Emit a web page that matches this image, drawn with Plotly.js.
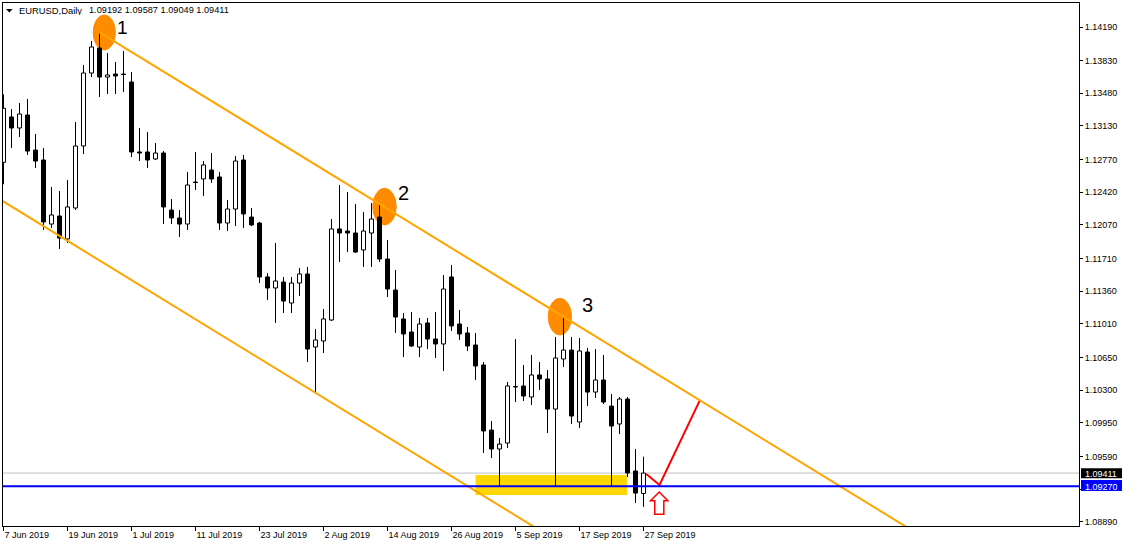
<!DOCTYPE html>
<html>
<head>
<meta charset="utf-8">
<script src="https://cdn.plot.ly/plotly-3.0.1.min.js"></script>
<style>
html,body{margin:0;padding:0;background:#fff;}
#chart{width:1125px;height:546px;}
</style>
</head>
<body>
<div id="chart"></div>
<script>
// ---- data (EURUSD daily) ----
const xTickIdx = [0, 8, 16, 24, 32, 40, 48, 56, 64, 72, 80];
const xTickText = ["7 Jun 2019", "19 Jun 2019", "1 Jul 2019", "11 Jul 2019", "23 Jul 2019",
  "2 Aug 2019", "14 Aug 2019", "26 Aug 2019", "5 Sep 2019", "17 Sep 2019", "27 Sep 2019"];

const openP = [
  1.12740, 1.13226, 1.13108, 1.13247, 1.12872, 1.12765, 1.12079, 1.12165, 1.11919, 1.12251,
  1.12915, 1.13697, 1.13965, 1.13654, 1.13686, 1.13686, 1.13601, 1.12851, 1.12851, 1.12776,
  1.12840, 1.12229, 1.12144, 1.12079, 1.12529, 1.12562, 1.12658, 1.12583, 1.12090, 1.12240,
  1.12765, 1.12154, 1.12090, 1.11512, 1.11394, 1.11458, 1.11233, 1.11447, 1.11544, 1.10762,
  1.10826, 1.11051, 1.12026, 1.12004, 1.11983, 1.11801, 1.11983, 1.12154, 1.11704, 1.11372,
  1.11062, 1.10922, 1.10762, 1.11019, 1.10847, 1.10794, 1.11512, 1.11008, 1.10912, 1.10783,
  1.10569, 1.09872, 1.09669, 1.09733, 1.10333, 1.10344, 1.10226, 1.10462, 1.10419, 1.10097,
  1.10633, 1.10729, 1.09958, 1.10708, 1.10279, 1.10408, 1.10129, 1.09937, 1.10204, 1.09433,
  1.09192];
const highP = [
  1.13469, 1.13311, 1.13376, 1.13419, 1.13044, 1.12894, 1.12476, 1.12433, 1.12551, 1.13172,
  1.13783, 1.14040, 1.14126, 1.13911, 1.13815, 1.13933, 1.13708, 1.13108, 1.13065, 1.12947,
  1.12861, 1.12347, 1.12229, 1.12637, 1.12851, 1.12754, 1.12840, 1.12637, 1.12337, 1.12808,
  1.12819, 1.12251, 1.12101, 1.11554, 1.11876, 1.11512, 1.11512, 1.11608, 1.11619, 1.10954,
  1.11169, 1.12133, 1.12497, 1.12422, 1.12294, 1.12208, 1.12304, 1.12283, 1.11908, 1.11587,
  1.11126, 1.11137, 1.11072, 1.11072, 1.11137, 1.11533, 1.11640, 1.11158, 1.10976, 1.10912,
  1.10601, 1.09969, 1.09787, 1.10387, 1.10847, 1.10569, 1.10676, 1.10601, 1.10515, 1.10869,
  1.11094, 1.10869, 1.10858, 1.10751, 1.10740, 1.10676, 1.10258, 1.10226, 1.10226, 1.09669,
  1.09587];
const lowP = [
  1.12505, 1.12894, 1.13011, 1.12819, 1.12679, 1.12015, 1.12037, 1.11812, 1.11876, 1.12229,
  1.12829, 1.13654, 1.13440, 1.13472, 1.13472, 1.13494, 1.12797, 1.12754, 1.12679, 1.12765,
  1.12079, 1.12079, 1.11940, 1.12015, 1.12444, 1.12379, 1.12519, 1.12015, 1.12004, 1.12058,
  1.12037, 1.12058, 1.11447, 1.11265, 1.11019, 1.11126, 1.11126, 1.11308, 1.10601, 1.10269,
  1.10697, 1.11040, 1.11672, 1.11779, 1.11769, 1.11619, 1.11619, 1.11672, 1.11297, 1.10912,
  1.10654, 1.10762, 1.10654, 1.10740, 1.10644, 1.10504, 1.10933, 1.10837, 1.10719, 1.10408,
  1.09626, 1.09572, 1.09262, 1.09679, 1.10172, 1.10183, 1.10140, 1.10301, 1.09840, 1.09262,
  1.10547, 1.09937, 1.09894, 1.10129, 1.10215, 1.10151, 1.09262, 1.09829, 1.09369, 1.09090,
  1.09049];
const closeP = [
  1.13319, 1.13108, 1.13258, 1.12861, 1.12754, 1.12101, 1.12176, 1.11929, 1.12262, 1.12915,
  1.13697, 1.13976, 1.13654, 1.13676, 1.13665, 1.13681, 1.12851, 1.12840, 1.12765, 1.12840,
  1.12262, 1.12144, 1.12079, 1.12497, 1.12524, 1.12712, 1.12562, 1.12090, 1.12240, 1.12754,
  1.12187, 1.12069, 1.11512, 1.11394, 1.11469, 1.11254, 1.11447, 1.11544, 1.10740, 1.10837,
  1.11062, 1.12026, 1.11983, 1.11983, 1.11779, 1.12004, 1.12133, 1.11704, 1.11383, 1.11083,
  1.10901, 1.10772, 1.11008, 1.10847, 1.10794, 1.11383, 1.10987, 1.10901, 1.10772, 1.10558,
  1.09862, 1.09669, 1.09722, 1.10344, 1.10338, 1.10237, 1.10462, 1.10419, 1.10097, 1.10644,
  1.10729, 1.10022, 1.10719, 1.10279, 1.10408, 1.10172, 1.09915, 1.10204, 1.09412, 1.09197,
  1.09411];

// (the 1.09240 label sits under the blue price box in the reference, so its text is left empty)
const yTickVals = [1.14190, 1.13830, 1.13480, 1.13130, 1.12770, 1.12420, 1.12070, 1.11710,
  1.11360, 1.11010, 1.10650, 1.10300, 1.09950, 1.09590, 1.09240, 1.08890];
const yTickText = ["1.14190", "1.13830", "1.13480", "1.13130", "1.12770", "1.12420", "1.12070", "1.11710",
  "1.11360", "1.11010", "1.10650", "1.10300", "1.09950", "1.09590", "", "1.08890"];

const bidPrice = 1.09411;
const levelPrice = 1.09270;
// channel trend lines: [startIndex, startPrice], slope per bar
const upperStart = [12, 1.14133];
const lowerStart = [-1, 1.12372];
const channelSlope = -0.0005254;
const channelEnd = 140;
// forecast path
const forecastX = [80.34, 82.0, 87.04];
const forecastY = [1.09401, 1.09283, 1.10190];
// support zone
const zoneX = [59.0, 77.96];
const zoneY = [1.09176, 1.09390];
// marked swing points (ellipses): [x0, x1, y0, y1]
const swings = [
  [11.21, 13.99, 1.13944, 1.14319],
  [46.16, 49.09, 1.12069, 1.12462],
  [68.09, 71.00, 1.10890, 1.11283]
];
const swingLabels = [["1", 14.9, 1.14195, 19], ["2", 49.95, 1.12408, 20], ["3", 73.0, 1.11211, 20]];

// ---- build traces ----
const n = openP.length;
const idx = openP.map((_, i) => i);
const bodyBase = [], bodyLen = [], bodyFill = [];
const wx = [], wy = [];
for (let i = 0; i < n; i++) {
  const top = Math.max(openP[i], closeP[i]);
  const bot = Math.min(openP[i], closeP[i]);
  bodyBase.push(bot);
  bodyLen.push(Math.max(top - bot, 0.000004));
  bodyFill.push(closeP[i] > openP[i] ? '#ffffff' : '#000000');
  if (highP[i] > top) { wx.push(i, i, null); wy.push(highP[i], top, null); }
  if (lowP[i] < bot) { wx.push(i, i, null); wy.push(bot, lowP[i], null); }
}

const traces = [
  {
    type: 'bar', x: idx, y: bodyLen, base: bodyBase, width: 0.5,
    marker: { color: bodyFill, line: { color: '#000000', width: 1 } },
    hoverinfo: 'skip', showlegend: false
  },
  {
    type: 'scatter', mode: 'lines', x: wx, y: wy,
    line: { color: '#000000', width: 1 }, connectgaps: false,
    hoverinfo: 'skip', showlegend: false
  },
  {
    type: 'scatter', mode: 'lines', x: forecastX, y: forecastY,
    line: { color: '#ff0000', width: 2 }, hoverinfo: 'skip', showlegend: false
  }
];

function lineAt(start, x) { return start[1] + channelSlope * (x - start[0]); }

const FONT = 'Liberation Sans, Arial, sans-serif';
const shapes = [
  { type: 'rect', xref: 'x', yref: 'y', x0: zoneX[0], x1: zoneX[1], y0: zoneY[0], y1: zoneY[1],
    fillcolor: '#ffd700', line: { width: 0 }, layer: 'below' },
  { type: 'line', xref: 'paper', yref: 'y', x0: 0, x1: 1, y0: bidPrice, y1: bidPrice,
    line: { color: '#c0c0c0', width: 1 }, layer: 'below' }
];
swings.forEach(s => shapes.push({
  type: 'circle', xref: 'x', yref: 'y', x0: s[0], x1: s[1], y0: s[2], y1: s[3],
  fillcolor: '#ff8c00', line: { color: '#ff8c00', width: 1 }, layer: 'below'
}));
shapes.push(
  { type: 'line', xref: 'x', yref: 'y', x0: upperStart[0], y0: upperStart[1],
    x1: channelEnd, y1: lineAt(upperStart, channelEnd), line: { color: '#ffa500', width: 2 } },
  { type: 'line', xref: 'x', yref: 'y', x0: lowerStart[0], y0: lowerStart[1],
    x1: channelEnd, y1: lineAt(lowerStart, channelEnd), line: { color: '#ffa500', width: 2 } },
  { type: 'line', xref: 'paper', yref: 'y', x0: 0, x1: 1, y0: levelPrice, y1: levelPrice,
    line: { color: '#0000ff', width: 2 } },
  // up arrow (hollow)
  { type: 'path', xref: 'x', yref: 'y',
    path: 'M 81.96,1.09208 L 83.04,1.09115 L 82.54,1.09115 L 82.54,1.08969 L 81.41,1.08969 L 81.41,1.09115 L 80.875,1.09115 Z',
    fillcolor: '#ffffff', line: { color: '#ff0000', width: 1.5 } },
  // header triangle
  { type: 'path', xref: 'paper', yref: 'paper',
    path: 'M 0.00279,0.98853 L 0.00901,0.98853 L 0.0059,0.98203 Z',
    fillcolor: '#000000', line: { width: 0 } },
  // right-axis price boxes
  { type: 'rect', xref: 'paper', yref: 'paper', x0: 1.00186, x1: 1.03996, y0: 0.0912, y1: 0.1103,
    fillcolor: '#000000', line: { width: 0 } },
  { type: 'rect', xref: 'paper', yref: 'paper', x0: 1.00186, x1: 1.03996, y0: 0.0669, y1: 0.0880,
    fillcolor: '#0000ff', line: { width: 0 } }
);

const annotations = [
  { xref: 'paper', yref: 'paper', x: 0.0133, y: 0.9866, xanchor: 'left', yanchor: 'middle',
    height: 10, valign: 'middle',
    text: 'EURUSD,Daily', showarrow: false, font: { family: FONT, size: 9.4, color: '#000' } },
  { xref: 'paper', yref: 'paper', x: 0.0783, y: 0.9866, xanchor: 'left', yanchor: 'middle',
    height: 10, valign: 'middle',
    text: '1.09192 1.09587 1.09049 1.09411', showarrow: false, font: { family: FONT, size: 9.2, color: '#000' } },
  { xref: 'paper', yref: 'y', x: 1.0209, y: bidPrice, xanchor: 'center', yanchor: 'middle',
    height: 9, valign: 'middle',
    text: '1.09411', showarrow: false, font: { family: FONT, size: 9, color: '#fff' } },
  { xref: 'paper', yref: 'y', x: 1.0209, y: levelPrice, xanchor: 'center', yanchor: 'middle',
    height: 9, valign: 'middle',
    text: '1.09270', showarrow: false, font: { family: FONT, size: 9, color: '#fff' } }
];
swingLabels.forEach(l => annotations.push({
  xref: 'x', yref: 'y', x: l[1], y: l[2], text: l[0], showarrow: false,
  height: 14, valign: 'middle',
  xanchor: 'center', yanchor: 'middle', font: { family: FONT, size: l[3], color: '#000' }
}));

const layout = {
  width: 1125, height: 546,
  margin: { l: 3, r: 46, t: 3, b: 20, pad: 0 },
  paper_bgcolor: '#ffffff', plot_bgcolor: '#ffffff',
  showlegend: false, hovermode: false, bargap: 0,
  xaxis: {
    type: 'linear', range: [-0.0625, 134.4375], fixedrange: true,
    showgrid: false, zeroline: false, showline: true, mirror: true,
    linecolor: '#000', linewidth: 1,
    tickmode: 'array', tickvals: xTickIdx, ticktext: xTickText,
    ticks: 'outside', ticklen: 4, tickcolor: '#000', tickwidth: 1,
    ticklabelposition: 'outside right',
    tickfont: { family: FONT, size: 9, color: '#000' }, automargin: false
  },
  yaxis: {
    type: 'linear', range: [1.088439, 1.144471], side: 'right', fixedrange: true,
    showgrid: false, zeroline: false, showline: true, mirror: true,
    linecolor: '#000', linewidth: 1,
    tickmode: 'array', tickvals: yTickVals, ticktext: yTickText,
    ticks: 'outside', ticklen: 3, tickcolor: '#000', tickwidth: 1,
    tickfont: { family: FONT, size: 9, color: '#000' }, automargin: false
  },
  shapes: shapes,
  annotations: annotations
};

Plotly.newPlot('chart', traces, layout, { staticPlot: true, displayModeBar: false });
</script>
</body>
</html>
